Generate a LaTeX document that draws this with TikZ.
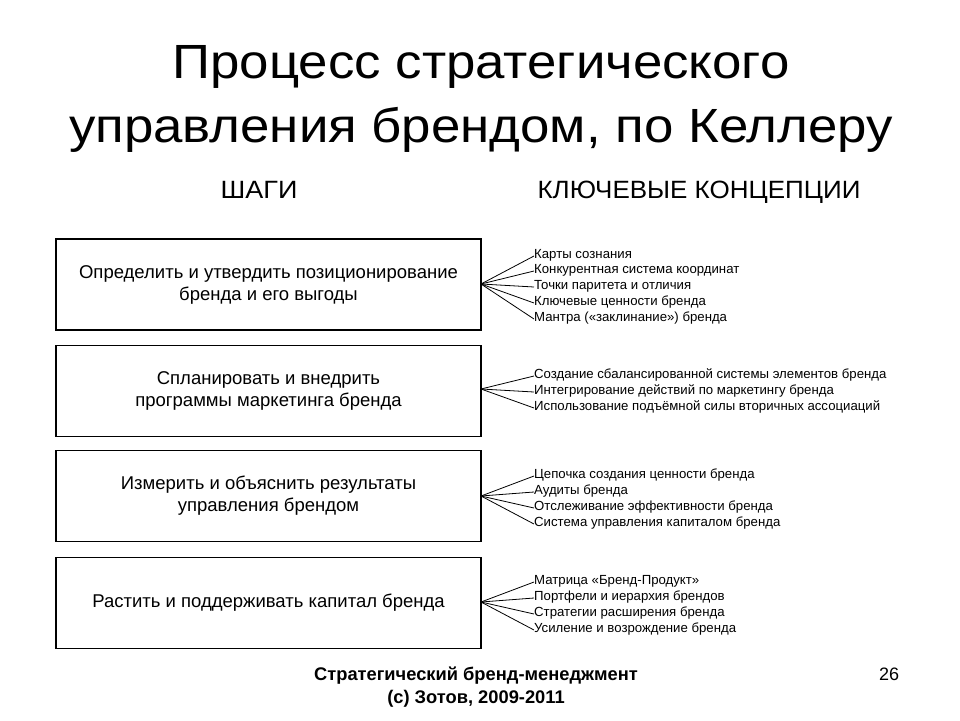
\documentclass[tikz,border=0pt]{standalone}
\usepackage{fontspec}
\usepackage{graphicx}
\setmainfont{Liberation Sans}
\begin{document}
\begin{tikzpicture}[x=1pt,y=-1pt,
  stepbox/.style={draw=black, line width=1.1pt, minimum width=425pt, minimum height=91pt, inner sep=0pt, align=center, font=\fontsize{18.5}{22}\selectfont},
  item/.style={anchor=west, inner sep=0pt, text height=0.72em, text depth=0.2em, yshift=-3pt, font=\fontsize{13.2}{15}\selectfont},
  fan/.style={line width=0.8pt},
  ttl/.style={anchor=base, inner sep=0pt, font=\fontsize{48}{60}\selectfont},
  hdr/.style={anchor=base, inner sep=0pt, font=\fontsize{25}{30}\selectfont}]
\useasboundingbox (0,0) rectangle (960,720);
\node[ttl] (title1) at (481,78) {\scalebox{1.1}[1]{Процесс стратегического}};
\node[ttl] (title2) at (481,142) {\scalebox{1.1}[1]{управления брендом, по Келлеру}};
\node[hdr] (h1) at (259,198) {\scalebox{1.08}[1]{ШАГИ}};
\node[hdr] (h2) at (699,198) {\scalebox{1.04}[1]{КЛЮЧЕВЫЕ КОНЦЕПЦИИ}};

\node[stepbox] (b1) at (268.5,284.5) {Определить и утвердить позиционирование\\бренда и его выгоды};
\node[stepbox] (b2) at (268.5,391) {Спланировать и внедрить\\программы маркетинга бренда};
\node[stepbox] (b3) at (268.5,496) {Измерить и объяснить результаты\\управления брендом};
\node[stepbox] (b4) at (268.5,603) {Растить и поддерживать капитал бренда};

\coordinate (f1) at (481,284);
\coordinate (f2) at (481,389);
\coordinate (f3) at (481,496);
\coordinate (f4) at (481,602);

\foreach \y/\t [count=\i] in {253/Карты сознания,268/Конкурентная система координат,284/Точки паритета и отличия,300/Ключевые ценности бренда,316/Мантра («заклинание») бренда}{
  \node[item] (a\i) at (534,\y) {\t};
  \draw[fan] (f1) -- (a\i.west);
}
\foreach \y/\t [count=\i] in {373/Создание сбалансированной системы элементов бренда,389/Интегрирование действий по маркетингу бренда,405/Использование подъёмной силы вторичных ассоциаций}{
  \node[item] (c\i) at (534,\y) {\t};
  \draw[fan] (f2) -- (c\i.west);
}
\foreach \y/\t [count=\i] in {473/Цепочка создания ценности бренда,489/Аудиты бренда,505/Отслеживание эффективности бренда,521/Система управления капиталом бренда}{
  \node[item] (d\i) at (534,\y) {\t};
  \draw[fan] (f3) -- (d\i.west);
}
\foreach \y/\t [count=\i] in {579/Матрица «Бренд-Продукт»,595/Портфели и иерархия брендов,611/Стратегии расширения бренда,627/Усиление и возрождение бренда}{
  \node[item] (e\i) at (534,\y) {\t};
  \draw[fan] (f4) -- (e\i.west);
}

\node[anchor=base, inner sep=0pt, font=\bfseries\fontsize{18.3}{22}\selectfont] (foot1) at (476,680) {Стратегический бренд-менеджмент};
\node[anchor=base, inner sep=0pt, font=\bfseries\fontsize{18.3}{22}\selectfont] (foot2) at (476,703) {(с) Зотов, 2009-2011};
\node[anchor=base, inner sep=0pt, font=\fontsize{18}{22}\selectfont] (pg) at (889,680) {26};
\end{tikzpicture}
\end{document}
